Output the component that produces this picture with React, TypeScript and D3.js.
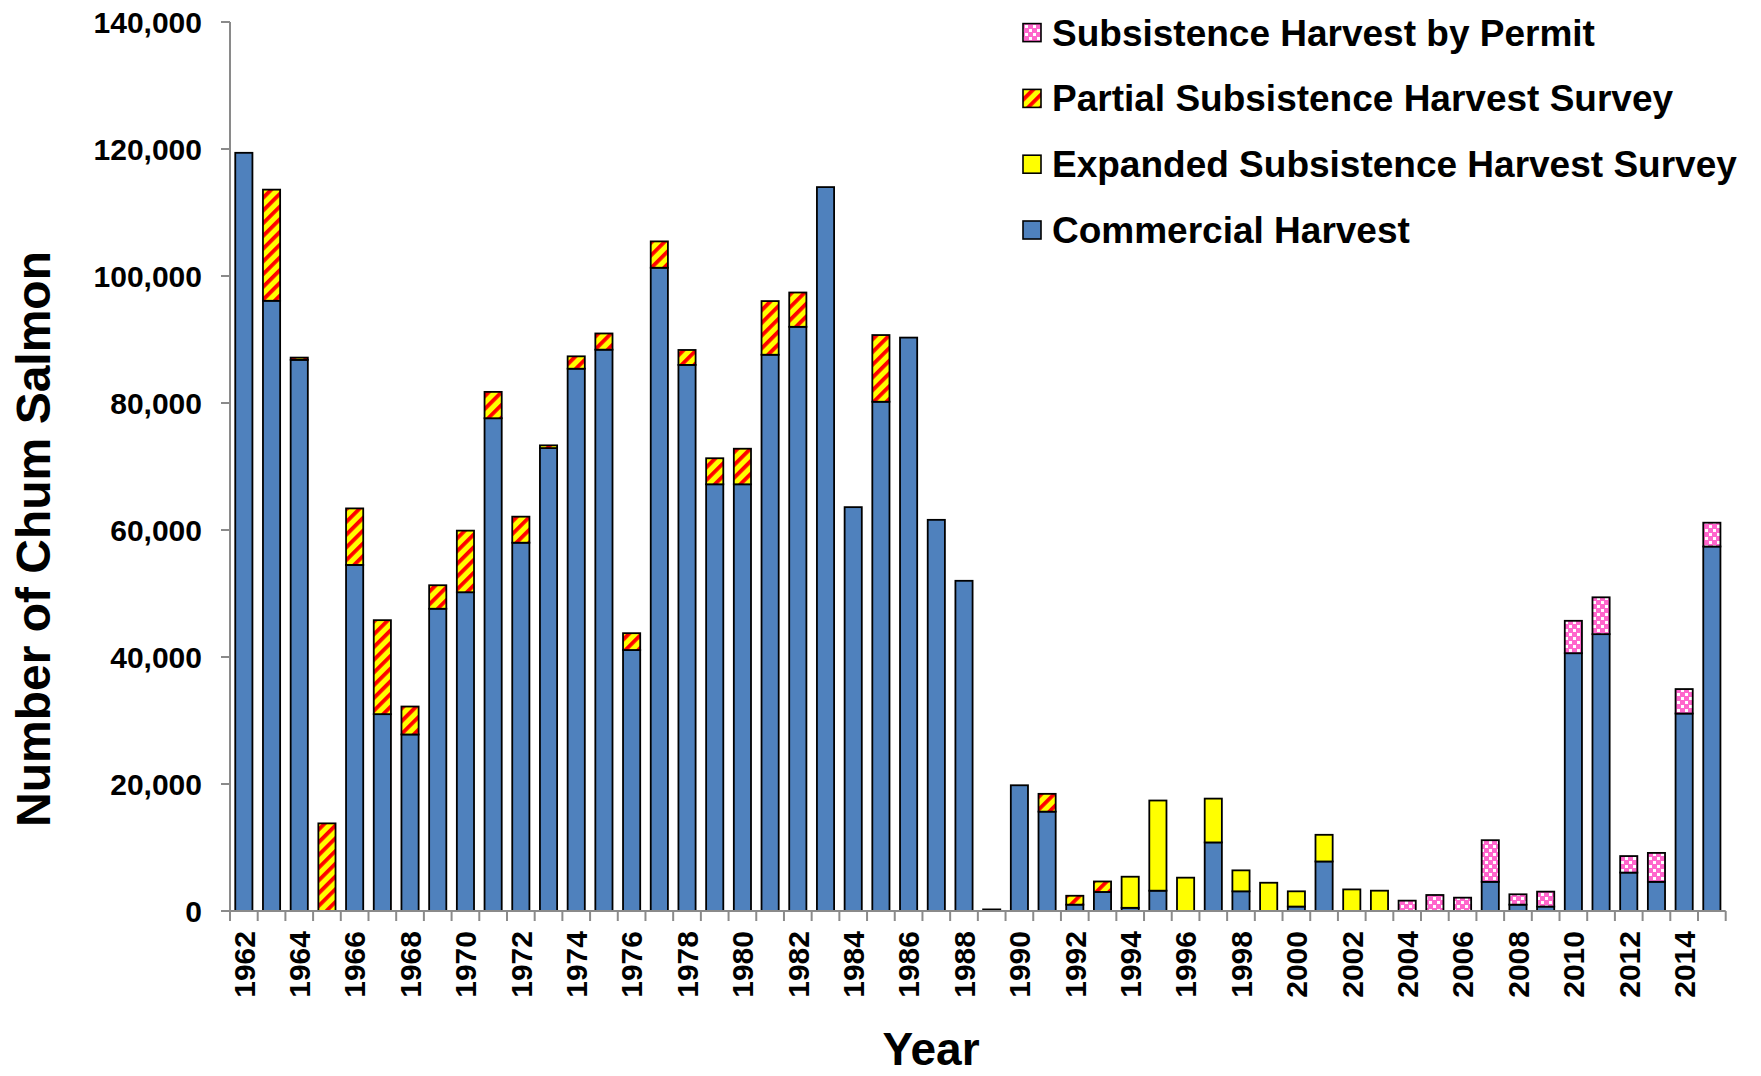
import React from 'react';
import * as d3 from 'd3';

const years = [
  '1962','1963','1964','1965','1966','1967','1968','1969','1970','1971',
  '1972','1973','1974','1975','1976','1977','1978','1979','1980','1981',
  '1982','1983','1984','1985','1986','1987','1988','1989','1990','1991',
  '1992','1993','1994','1995','1996','1997','1998','1999','2000','2001',
  '2002','2003','2004','2005','2006','2007','2008','2009','2010','2011',
  '2012','2013','2014','2015'
];

const commercial = [
  119400, 96100, 86800, 0, 54500, 31000, 27800, 47600, 50200, 77600,
  58000, 72900, 85400, 88400, 41100, 101300, 86000, 67200, 67200, 87600,
  92000, 114000, 63600, 80200, 90300, 61600, 52000, 250, 19800, 15650,
  1000, 3000, 500, 3200, 0, 10800, 3100, 0, 700, 7800,
  0, 0, 0, 0, 0, 4600, 1000, 700, 40600, 43600,
  6050, 4600, 31100, 57400
];

const expanded = [
  0, 0, 0, 0, 0, 0, 0, 0, 0, 0,
  0, 0, 0, 0, 0, 0, 0, 0, 0, 0,
  0, 0, 0, 0, 0, 0, 0, 0, 0, 0,
  0, 0, 4900, 14200, 5250, 6900, 3300, 4450, 2400, 4200,
  3400, 3200, 0, 0, 0, 0, 0, 0, 0, 0,
  0, 0, 0, 0
];

const partial = [
  0, 17500, 350, 13800, 8900, 14800, 4400, 3700, 9700, 4150,
  4100, 430, 1950, 2550, 2650, 4150, 2350, 4100, 5600, 8450,
  5400, 0, 0, 10500, 0, 0, 0, 0, 0, 2800,
  1400, 1650, 0, 0, 0, 0, 0, 0, 0, 0,
  0, 0, 0, 0, 0, 0, 0, 0, 0, 0,
  0, 0, 0, 0
];

const permit = [
  0, 0, 0, 0, 0, 0, 0, 0, 0, 0,
  0, 0, 0, 0, 0, 0, 0, 0, 0, 0,
  0, 0, 0, 0, 0, 0, 0, 0, 0, 0,
  0, 0, 0, 0, 0, 0, 0, 0, 0, 0,
  0, 0, 1630, 2520, 2100, 6550, 1630, 2350, 5100, 5800,
  2600, 4550, 3850, 3750
];

const yTicks = [0, 20000, 40000, 60000, 80000, 100000, 120000, 140000];
const xTickLabels = [
  '1962','1964','1966','1968','1970','1972','1974','1976','1978','1980',
  '1982','1984','1986','1988','1990','1992','1994','1996','1998','2000',
  '2002','2004','2006','2008','2010','2012','2014'
];

const seriesKeys = ['commercial', 'expanded', 'partial', 'permit'];
const seriesFill: Record<string, string> = {
  commercial: '#4F81BD',
  expanded: '#FFFF00',
  partial: 'url(#stripes)',
  permit: 'url(#dots)',
};
const legendItems = [
  { key: 'permit', label: 'Subsistence Harvest by Permit' },
  { key: 'partial', label: 'Partial Subsistence Harvest Survey' },
  { key: 'expanded', label: 'Expanded Subsistence Harvest Survey' },
  { key: 'commercial', label: 'Commercial Harvest' },
];

const W = 1761;
const H = 1076;
const FONT = '"Liberation Sans", Arial, Helvetica, sans-serif';

export default function App() {
  const table = years.map((y, i) => ({
    year: y,
    commercial: commercial[i],
    expanded: expanded[i],
    partial: partial[i],
    permit: permit[i],
  }));

  const x = d3.scaleBand<string>().domain(years).range([230, 1725.7]).paddingInner(0.38).paddingOuter(0.19);
  const y = d3.scaleLinear().domain([0, 140000]).range([911, 22]);
  const stacked = d3.stack<any>().keys(seriesKeys)(table);
  const step = x.step();
  const axisColor = '#8a8a8a';

  return (
    <svg width={W} height={H} style={{ position: 'absolute', left: 0, top: 0, display: 'block', background: '#fff' }}
      fontFamily={FONT} fontWeight="bold">
      <defs>
        <pattern id="stripes" patternUnits="userSpaceOnUse" width="9" height="9" patternTransform="rotate(45)">
          <rect x="0" y="0" width="9" height="9" fill="#FFFF00" />
          <rect x="0" y="0" width="3.8" height="9" fill="#FF0000" />
        </pattern>
        <pattern id="dots" patternUnits="userSpaceOnUse" width="8" height="8">
          <rect x="0" y="0" width="8" height="8" fill="#FF66CC" />
          <rect x="1" y="1" width="3" height="3" fill="#FFFFFF" />
          <rect x="5" y="5" width="3" height="3" fill="#FFFFFF" />
        </pattern>
      </defs>

      {/* bars */}
      {stacked.map((s) => (
        <g key={s.key}>
          {s.map((d, i) => {
            const h = y(d[0]) - y(d[1]);
            if (h <= 0) return null;
            return (
              <rect key={i} x={x(years[i])} y={y(d[1])} width={x.bandwidth()} height={h}
                fill={seriesFill[s.key]} stroke="#000" strokeWidth={1.8} />
            );
          })}
        </g>
      ))}

      {/* y axis */}
      <line x1={230} x2={230} y1={y(140000)} y2={y(0)} stroke={axisColor} strokeWidth={2} />
      {yTicks.map((t) => (
        <g key={t}>
          <line x1={221} x2={230} y1={y(t)} y2={y(t)} stroke={axisColor} strokeWidth={2} />
          <text x={202} y={y(t)} dy="0.35em" textAnchor="end" fontSize={30} fill="#000">
            {d3.format(',')(t)}
          </text>
        </g>
      ))}

      {/* x axis */}
      <line x1={230} x2={1725.7} y1={y(0)} y2={y(0)} stroke={axisColor} strokeWidth={2} />
      {years.map((yr) => {
        const bx = (x(yr) as number) - (step - x.bandwidth()) / 2;
        return <line key={yr} x1={bx} x2={bx} y1={911} y2={921} stroke={axisColor} strokeWidth={2} />;
      })}
      <line x1={1725.7} x2={1725.7} y1={911} y2={921} stroke={axisColor} strokeWidth={2} />
      {xTickLabels.map((yr) => {
        const cx = (x(yr) as number) + x.bandwidth() / 2;
        return (
          <text key={yr} transform={`translate(${cx},931) rotate(-90)`} dy="0.36em" textAnchor="end"
            fontSize={30} fill="#000">{yr}</text>
        );
      })}

      {/* axis titles */}
      <text transform="translate(50,539) rotate(-90)" textAnchor="middle" fontSize={48} fill="#000">
        Number of Chum Salmon
      </text>
      <text x={931} y={1065} textAnchor="middle" fontSize={46} fill="#000">Year</text>

      {/* legend */}
      {legendItems.map((it, i) => {
        const cy = 32.6 + i * 65.8;
        return (
          <g key={it.key}>
            <rect x={1023} y={cy - 9} width={18} height={18} fill={seriesFill[it.key]} stroke="#000" strokeWidth={1.6} />
            <text x={1052} y={cy + 13} fontSize={37} fill="#000">{it.label}</text>
          </g>
        );
      })}
    </svg>
  );
}
